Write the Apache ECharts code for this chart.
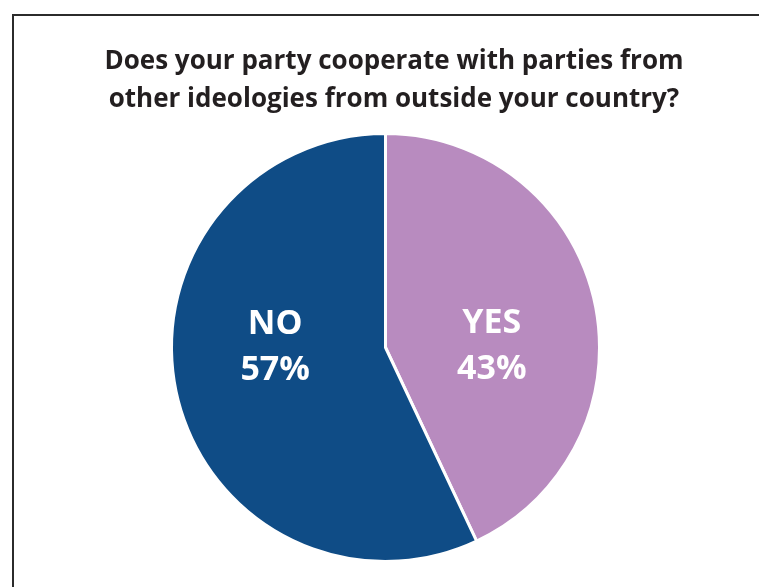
<!DOCTYPE html>
<html>
<head>
<meta charset="utf-8">
<script src="https://cdn.jsdelivr.net/npm/echarts@6/dist/echarts.min.js"></script>
<style>
html,body{margin:0;padding:0;background:#fff;}
#chart{width:759px;height:587px;}
</style>
</head>
<body>
<div id="chart"></div>
<script>
const titleText = 'Does your party cooperate with parties from\nother ideologies from outside your country?';
const categories = ['YES', 'NO'];
const values = [43, 57];
const colors = ['#b88bbf', '#0f4c86'];
const labelOffsets = [[-1, 23], [-3, -24]];

const chart = echarts.init(document.getElementById('chart'));
chart.setOption({
  backgroundColor: '#ffffff',
  animation: false,
  title: {
    text: titleText,
    left: 389,
    textAlign: 'center',
    top: 38,
    textStyle: {
      fontFamily: 'Open Sans',
      fontWeight: 'bold',
      fontSize: 26,
      lineHeight: 38,
      color: '#231f20'
    }
  },
  graphic: [{
    type: 'polyline',
    shape: { points: [[13, 600], [13, 15], [770, 15]] },
    style: { stroke: '#2b2b2b', lineWidth: 2, fill: null }
  }],
  series: [{
    type: 'pie',
    center: [385.5, 347.5],
    radius: 214,
    startAngle: 90,
    clockwise: true,
    itemStyle: { borderColor: '#ffffff', borderWidth: 3 },
    label: {
      position: 'inside',
      color: '#ffffff',
      fontFamily: 'Open Sans',
      fontWeight: 'bold',
      fontSize: 34,
      lineHeight: 46,
      formatter: p => p.name + '\n' + p.value + '%'
    },
    labelLine: { show: false },
    emphasis: { disabled: true },
    data: categories.map((c, i) => ({
      name: c,
      value: values[i],
      itemStyle: { color: colors[i] },
      label: { offset: labelOffsets[i] }
    }))
  }]
});
</script>
</body>
</html>
